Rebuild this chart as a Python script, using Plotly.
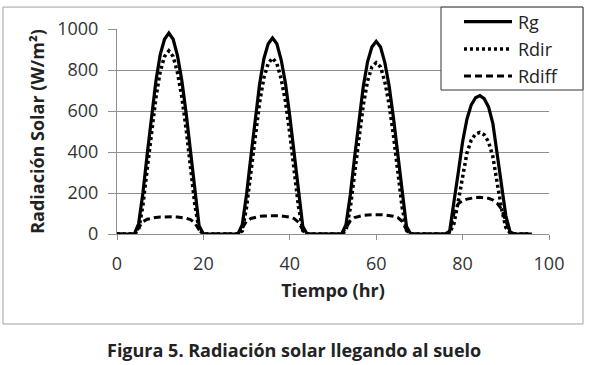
import plotly.graph_objects as go

hours = list(range(97))

rg = ([0, 0, 0, 0, 0]
      + [50, 200, 390, 570, 745, 875, 950, 980, 950, 870, 750, 590, 400, 200, 40, 0]
      + [0, 0, 0, 0, 0, 0, 0, 0]
      + [45, 195, 380, 560, 730, 855, 928, 956, 928, 850, 735, 575, 390, 195, 38, 0]
      + [0, 0, 0, 0, 0, 0, 0, 0]
      + [45, 190, 375, 550, 718, 840, 912, 940, 912, 836, 722, 566, 384, 192, 38, 0]
      + [0, 0, 0, 0, 0, 0, 0, 0]
      + [15, 150, 300, 450, 560, 630, 665, 675, 660, 620, 540, 390, 240, 90, 10, 0]
      + [0, 0, 0, 0])

rdir = ([0, 0, 0, 0, 0]
        + [20, 140, 318, 492, 664, 792, 866, 893, 866, 787, 669, 513, 330, 145, 20, 0]
        + [0, 0, 0, 0, 0, 0, 0, 0]
        + [15, 132, 302, 475, 640, 762, 832, 858, 832, 757, 645, 490, 312, 135, 17, 0]
        + [0, 0, 0, 0, 0, 0, 0, 0]
        + [15, 126, 295, 463, 627, 747, 815, 836, 815, 743, 631, 479, 304, 130, 18, 0]
        + [0, 0, 0, 0, 0, 0, 0, 0]
        + [5, 50, 160, 290, 395, 458, 488, 496, 484, 450, 378, 250, 125, 32, 4, 0]
        + [0, 0, 0, 0])

rdiff = ([0, 0, 0, 0, 0]
         + [30, 60, 72, 78, 81, 83, 84, 84, 84, 83, 81, 77, 70, 55, 20, 0]
         + [0, 0, 0, 0, 0, 0, 0, 0]
         + [30, 62, 76, 82, 86, 88, 89, 90, 89, 88, 86, 82, 75, 58, 20, 0]
         + [0, 0, 0, 0, 0, 0, 0, 0]
         + [30, 64, 80, 87, 91, 93, 94, 95, 94, 93, 91, 87, 80, 62, 20, 0]
         + [0, 0, 0, 0, 0, 0, 0, 0]
         + [10, 100, 148, 162, 170, 175, 178, 179, 178, 174, 166, 150, 122, 60, 5, 0]
         + [0, 0, 0, 0])

series_names = ["Rg", "Rdir", "Rdiff"]
x_ticks = [0, 20, 40, 60, 80, 100]
y_ticks = [0, 200, 400, 600, 800, 1000]

FONT = "Open Sans"
GRID = "#8f8f8f"
TXT = "#222222"
styles = {"Rg": dict(color="black", width=3.2),
          "Rdir": dict(color="black", width=3.5, dash="3px,3px"),
          "Rdiff": dict(color="black", width=3, dash="7px,4px")}

fig = go.Figure()
for name, ys in zip(series_names, [rg, rdir, rdiff]):
    fig.add_trace(go.Scatter(x=hours, y=ys, name=name, mode="lines",
                             line=styles[name], showlegend=False))

# legend drawn as a framed box (line samples + labels) in paper coordinates
legend_rows_y = [1.0356, 0.9024, 0.7707]
shapes = [
    dict(type="rect", xref="paper", yref="paper",
         x0=-0.2639, x1=1.0787, y0=-0.439, y1=1.107,
         line=dict(color="#a0a0a0", width=1), layer="below"),
    dict(type="rect", xref="paper", yref="paper",
         x0=0.75, x1=1.0787, y0=0.7024, y1=1.107,
         line=dict(color="#333333", width=1), fillcolor="white", layer="above"),
]
annotations = [dict(text="Figura 5. Radiación solar llegando al suelo",
                    xref="paper", yref="paper", x=0.41, y=-0.566,
                    xanchor="center", yanchor="middle", showarrow=False,
                    font=dict(family=FONT, size=18, weight="bold", color=TXT))]
for name, ly in zip(series_names, legend_rows_y):
    shapes.append(dict(type="line", xref="paper", yref="paper",
                       x0=0.8032, x1=0.9144, y0=ly, y1=ly,
                       line=styles[name], layer="above"))
    annotations.append(dict(text=name, xref="paper", yref="paper",
                            x=0.9236, y=ly, xanchor="left", yanchor="middle",
                            showarrow=False,
                            font=dict(family=FONT, size=18, color=TXT)))

fig.update_layout(
    width=590, height=365,
    margin=dict(l=117, r=41, t=29, b=131),
    paper_bgcolor="white", plot_bgcolor="white",
    font=dict(family=FONT, size=18, color="#333333"),
    showlegend=False,
    xaxis=dict(range=[0, 100], tickvals=x_ticks, ticktext=[str(v) for v in x_ticks],
               ticks="outside", ticklen=5, tickcolor=GRID, showline=True, linecolor=GRID,
               showgrid=False, zeroline=False, ticklabelstandoff=8,
               tickfont=dict(family=FONT, size=18, color="#333333"),
               title=dict(text="Tiempo (hr)", standoff=10,
                          font=dict(family=FONT, size=18, weight="bold", color=TXT))),
    yaxis=dict(range=[0, 1000], tickvals=y_ticks, ticktext=[str(v) for v in y_ticks],
               ticks="outside", ticklen=8, tickcolor=GRID, showline=True, linecolor=GRID,
               showgrid=True, gridcolor=GRID, zeroline=False, ticklabelstandoff=6,
               tickfont=dict(family=FONT, size=18, color="#333333"),
               title=dict(text="Radiación Solar (W/m²)", standoff=7,
                          font=dict(family=FONT, size=18, weight="bold", color=TXT))),
    shapes=shapes,
    annotations=annotations,
)

fig.write_html("out.html", config={"displayModeBar": False},
               post_script="document.body.style.margin='0';")
